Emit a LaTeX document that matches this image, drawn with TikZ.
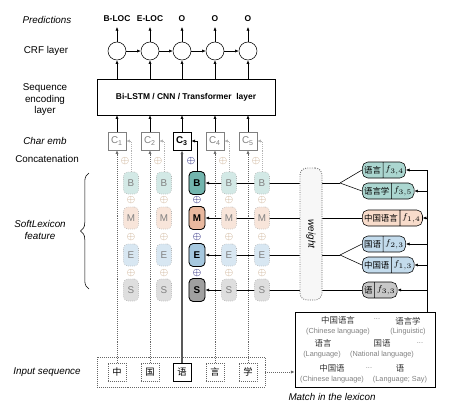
\documentclass[tikz,border=0pt]{standalone}
\usepackage[no-math]{fontspec}
\setmainfont{Liberation Sans}
\newfontfamily\cjk{Noto Sans CJK SC}
\usepackage{xcolor}
\usetikzlibrary{positioning,calc,arrows.meta,shapes.multipart,decorations.pathreplacing,backgrounds}

\definecolor{lteal}{HTML}{D3E9E6}
\definecolor{mteal}{HTML}{ABD6D0}
\definecolor{dteal}{HTML}{72B5AE}
\definecolor{lpeach}{HTML}{F8E5DA}
\definecolor{mpeach}{HTML}{F8DCCB}
\definecolor{dpeach}{HTML}{E9B89E}
\definecolor{lblue}{HTML}{D8E7F2}
\definecolor{mblue}{HTML}{C3DBEC}
\definecolor{dblue}{HTML}{A6C8DF}
\definecolor{lgray}{HTML}{DEDEDE}
\definecolor{mgray}{HTML}{C8C8C8}
\definecolor{dgray}{HTML}{A0A0A0}

\begin{document}
\begin{tikzpicture}[x=0.025cm, y=-0.025cm, font=\fontsize{7}{8.2}\selectfont,
  arr/.style={-{Latex[length=2.6pt,width=2.2pt]}},
  crf/.style={circle, draw, minimum size=0.45cm, inner sep=0pt},
  cbox/.style={draw=gray, fill=white, minimum size=0.45cm, inner sep=0pt, text=gray},
  xbox/.style={draw=gray!80!black, densely dotted, minimum size=0.45cm, inner sep=0pt},
  tag/.style={draw=gray!60, densely dotted, rounded corners=3pt, minimum width=0.375cm, minimum height=0.55cm, inner sep=0pt, text=gray},
  tagon/.style={draw, semithick, rounded corners=3pt, minimum width=0.4cm, minimum height=0.575cm, inner sep=0pt, font=\fontsize{7}{8}\bfseries},
  plus/.style={inner sep=0pt, font=\fontsize{7}{7}\selectfont},
  lex/.style={rectangle split, rectangle split horizontal, rectangle split parts=2, draw, rounded corners=4pt, inner sep=1.3pt, minimum height=0.4cm, anchor=west, font=\fontsize{6}{7}\selectfont},
  gloss/.style={inner sep=0pt, text=gray, font=\fontsize{5.2}{6}\selectfont},
  word/.style={inner sep=0pt, text=black!80, font=\fontsize{6}{7}\cjk}
]
\useasboundingbox (0,0) rectangle (449,416);

% Left labels
\node[font=\fontsize{7}{8.2}\itshape] (lpred) at (47,20) {Predictions};
\node (lcrf) at (46,51) {CRF layer};
\node[align=center] (lenc) at (45,100) {Sequence\\encoding\\layer};
\node[font=\fontsize{7}{8.2}\itshape] (lemb) at (45,141) {Char emb};
\node (lcat) at (47,159) {Concatenation};
\node[align=center, font=\fontsize{7}{8.2}\itshape] (lsoft) at (40,230) {SoftLexicon\\feature};
\node[font=\fontsize{7}{8.2}\itshape] (linp) at (47,372) {Input sequence};
\draw[decorate, decoration={brace, amplitude=6pt}] (89,289) -- (89,173);

% Predictions and CRF
\foreach \i/\x/\lb in {1/117/B-LOC,2/150/E-LOC,3/182/O,4/215/O,5/248/O} {
  \node[font=\fontsize{6}{7}\bfseries] (p\i) at (\x,19) {\lb};
  \node[crf] (crf\i) at (\x,51) {};
  \draw[arr] (crf\i) -- (p\i);
}
\foreach \i [count=\j from 2] in {1,...,4}
  \draw[arr] (crf\i) -- (crf\j);

% Sequence encoding
\node[draw, minimum width=4.45cm, minimum height=0.9cm, font=\fontsize{6}{7}\bfseries] (enc) at (186,97) {Bi-LSTM / CNN / Transformer\ \ layer};
\foreach \i in {1,...,5}
  \draw[arr] (enc.north -| crf\i) -- (crf\i);

% Char emb
\foreach \i/\x in {1/117,2/150,4/215,5/248}
  \node[cbox] (c\i) at (\x,141) {C\textsubscript{\i}};
\node[cbox, draw=black, semithick, text=black, font=\fontsize{7}{8}\bfseries] (c3) at (182,141) {C\textsubscript{3}};
\foreach \i in {1,...,5}
  \draw[arr] (c\i) -- (c\i |- enc.south);

% Input sequence
\node[draw=gray!80!black, densely dotted, minimum width=4.2cm, minimum height=0.75cm] (inp) at (181,372) {};
\foreach \i/\x/\ch in {1/117/中,2/150/国,4/215/言,5/248/学}
  \node[xbox] (x\i) at (\x,372) {\cjk\fontsize{6.6}{7}\selectfont \ch};
\node[xbox, draw=black, solid, semithick] (x3) at (182,372) {\cjk\fontsize{6.6}{7}\selectfont 语};
\node[font=\fontsize{7}{8.2}\itshape] (lmatch) at (332,397) {Match in the lexicon};

% SoftLexicon B/M/E/S
\foreach \r/\y/\cl in {B/183/teal,M/218/peach,E/255/blue,S/290/gray} {
  \foreach \i/\x in {1/131,2/164,4/229,5/262}
    \node[tag, fill=l\cl] (\r\i) at (\x,\y) {\r};
  \node[tagon, fill=d\cl] (\r3) at (197,\y) {\r};
}
\foreach \i/\x in {1/131,2/164,4/229,5/262} {
  \node[plus, text=orange!35!gray!70] (pt\i) at (\x-6,161) {$\oplus$};
  \node[plus, text=orange!35!gray!70] (pa\i) at (\x,200) {$\oplus$};
  \node[plus, text=orange!35!gray!70] (pb\i) at (\x,237) {$\oplus$};
  \node[plus, text=orange!35!gray!70] (pc\i) at (\x,273) {$\oplus$};
}
\node[plus, text=blue!40!black] (pt3) at (191,161) {$\oplus$};
\node[plus, text=blue!40!black] (pa3) at (197,200) {$\oplus$};
\node[plus, text=blue!40!black] (pb3) at (197,237) {$\oplus$};
\node[plus, text=blue!40!black] (pc3) at (197,273) {$\oplus$};

% weight
\node[draw=gray!80!black, densely dotted, semithick, fill=gray!6, rounded corners=5pt, minimum width=0.55cm, minimum height=3.3cm] (wt) at (311,234) {};
\node[rotate=-90, font=\fontsize{7}{8}\itshape] (wlab) at (wt) {weight};

% Lexicon sets
\node[lex, fill=mteal] (l1) at (362,170) {\cjk 语言 \nodepart{two} $f_{3,4}$};
\node[lex, fill=mteal] (l2) at (362,191) {\cjk 语言学 \nodepart{two} $f_{3,5}$};
\node[lex, fill=mpeach] (l3) at (362,218) {\cjk 中国语言 \nodepart{two} $f_{1,4}$};
\node[lex, fill=mblue] (l4) at (362,244) {\cjk 国语 \nodepart{two} $f_{2,3}$};
\node[lex, fill=mblue] (l5) at (362,265) {\cjk 中国语 \nodepart{two} $f_{1,3}$};
\node[lex, fill=mgray] (l6) at (362,290) {\cjk 语 \nodepart{two} $f_{3,3}$};
\coordinate (k1) at (340,183);
\coordinate (k2) at (340,255);
\coordinate (rt) at (427,170);

% Match in the lexicon
\node[draw, semithick, minimum width=3.5cm, minimum height=1.875cm] (mt) at (365,349.5) {};
\node[word] (w1) at (338,320) {中国语言};
\node[gloss] (g1) at (338,332) {(Chinese language)};
\node[gloss] (d1) at (377,319) {...};
\node[word] (w2) at (408,321) {语言学};
\node[gloss] (g2) at (408,332) {(Linguistic)};
\node[word] (w3) at (323,343) {语言};
\node[gloss] (g3) at (322,355) {(Language)};
\node[word] (w4) at (382,343) {国语};
\node[gloss] (g4) at (382,355) {(National language)};
\node[gloss] (d2) at (420,343) {...};
\node[word] (w5) at (332,368) {中国语};
\node[gloss] (g5) at (332,380) {(Chinese language)};
\node[gloss] (d3) at (369,368) {...};
\node[word] (w6) at (400,368) {语};
\node[gloss] (g6) at (400,380) {(Language; Say)};

\begin{pgfonlayer}{background}
  % input to char emb
  \foreach \i in {1,2,4,5}
    \draw[arr, densely dotted, gray!80!black] (x\i) -- (c\i);
  \draw[arr, thick, gray!70!black] (x3) -- (c3);
  % feature to char emb
  \foreach \i in {1,2,4,5}
    \draw[arr, densely dotted, gray!60] (B\i.north) |- (c\i.east);
  \draw[arr] (B3.north) |- (c3.east);
  % weight to features
  \foreach \r in {B,M,E,S}
    \draw[arr] (wt.west |- \r3) -- (\r3);
  \draw (wt.east |- B3) -- (k1);
  \draw (k1) -- (l1.west);
  \draw (k1) -- (l2.west);
  \draw (wt.east |- M3) -- (l3.west);
  \draw (wt.east |- E3) -- (k2);
  \draw (k2) -- (l4.west);
  \draw (k2) -- (l5.west);
  \draw (wt.east |- S3) -- (l6.west);
  % lexicon rail
  \draw (rt) -- (rt |- mt.north);
  \foreach \k in {1,...,6}
    \draw[arr] (rt |- l\k.east) -- (l\k.east);
  \draw[arr, densely dotted, gray!80!black] (inp.east) -- (inp.east -| mt.west);
\end{pgfonlayer}
\end{tikzpicture}
\end{document}
